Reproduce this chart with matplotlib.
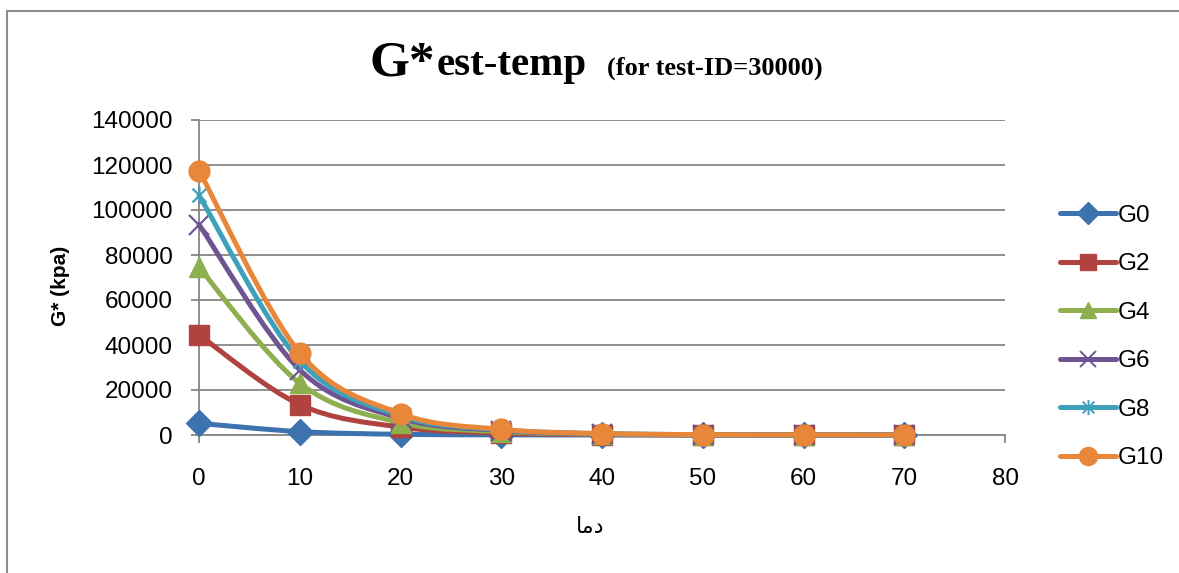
import matplotlib
matplotlib.use("Agg")
import matplotlib.pyplot as plt
import numpy as np
from matplotlib.path import Path
from matplotlib.patches import PathPatch, Rectangle
from matplotlib.lines import Line2D

# ---- data ----
temps = [0, 10, 20, 30, 40, 50, 60, 70]
series_names = ["G0", "G2", "G4", "G6", "G8", "G10"]
g0 = [5200, 1500, 300, 80, 20, 5, 2, 1]
g2 = [44500, 13500, 3500, 800, 200, 50, 15, 5]
g4 = [74500, 23000, 5500, 1500, 400, 100, 30, 10]
g6 = [93500, 29000, 7500, 2000, 500, 130, 40, 10]
g8 = [106500, 33000, 8500, 2300, 600, 150, 45, 12]
g10 = [117500, 36500, 9500, 2500, 650, 170, 50, 15]
y_ticks = [0, 20000, 40000, 60000, 80000, 100000, 120000, 140000]
x_ticks = [0, 10, 20, 30, 40, 50, 60, 70, 80]

colors = ["#3C72AD", "#B0433F", "#8EAF4E", "#6F5493", "#3FA0BA", "#E8873A"]

# asterisk marker
ast = Path([(-1, -1), (1, 1), (-1, 1), (1, -1), (0, -1.3), (0, 1.3)],
           [Path.MOVETO, Path.LINETO, Path.MOVETO, Path.LINETO, Path.MOVETO, Path.LINETO])
markers = ["D", "s", "^", "x", ast, "o"]
msizes = [13, 14, 14, 14, 13, 15]
leg_msizes = [11, 12, 12, 12, 11, 13]
data = [g0, g2, g4, g6, g8, g10]

fig = plt.figure(figsize=(11.79, 5.73), dpi=100)
ax = fig.add_axes([199 / 1179, 1 - 435 / 573, (1005 - 199) / 1179, (435 - 120) / 573])

def smooth_path(x, y):
    pts = np.column_stack([x, y]).astype(float)
    n = len(pts)
    verts = [pts[0]]
    codes = [Path.MOVETO]
    for i in range(n - 1):
        p0 = pts[i - 1] if i > 0 else pts[i]
        p1 = pts[i]
        p2 = pts[i + 1]
        p3 = pts[i + 2] if i + 2 < n else pts[i + 1]
        c1 = p1 + (p2 - p0) / 6.0
        c2 = p2 - (p3 - p1) / 6.0
        verts += [c1, c2, p2]
        codes += [Path.CURVE4] * 3
    return Path(verts, codes)

handles = []
for i, (name, vals) in enumerate(zip(series_names, data)):
    c = colors[i]
    patch = PathPatch(smooth_path(temps, vals), facecolor="none", edgecolor=c,
                      lw=3.6, capstyle="round", joinstyle="round", zorder=3 + i,
                      clip_on=False)
    ax.add_patch(patch)
    m = markers[i]
    unfilled = i in (3, 4)
    ax.plot(temps, vals, linestyle="none", marker=m, markersize=msizes[i],
            color=c, markeredgecolor=c, markeredgewidth=1.6 if unfilled else 1,
            markerfacecolor="none" if unfilled else c, zorder=3.5 + i, clip_on=False)
    handles.append(Line2D([], [], color=c, lw=3.6, solid_capstyle="round",
                          marker=m, markersize=leg_msizes[i], markeredgecolor=c,
                          markeredgewidth=1.4 if unfilled else 1,
                          markerfacecolor="none" if unfilled else c))

ax.set_xlim(0, 80)
ax.set_ylim(0, 140000)
ax.set_xticks(x_ticks)
ax.set_yticks(y_ticks)
ax.set_xticklabels([str(t) for t in x_ticks])
ax.set_yticklabels([str(t) for t in y_ticks])
ax.grid(axis="y", color="#868686", lw=1.3)
ax.set_axisbelow(True)
for s in ["top", "right"]:
    ax.spines[s].set_visible(False)
for s in ["left", "bottom"]:
    ax.spines[s].set_color("#868686")
    ax.spines[s].set_linewidth(1.3)
ax.tick_params(axis="both", direction="out", length=6, width=1.3, color="#868686",
               labelsize=17.5)
ax.tick_params(axis="y", pad=13)
ax.tick_params(axis="x", pad=18)
for lab in ax.get_xticklabels() + ax.get_yticklabels():
    lab.set_family("Liberation Sans")

ax.set_ylabel("G* (kpa)", fontsize=15, fontweight="bold", family="Liberation Sans")
ax.yaxis.set_label_coords(-0.16, 0.475)
fig.text(590 / 1179, 1 - 527 / 573, "\uFE8E\uFEE3\uFEA9", ha="center", va="center",
         fontsize=16, family="DejaVu Sans")

fig.text(370 / 1179, 1 - 75 / 573, "G*", fontsize=37, fontweight="bold",
         family="Liberation Serif", ha="left", va="baseline")
fig.text(437 / 1179, 1 - 75 / 573, "est-temp", fontsize=29.5, fontweight="bold",
         family="Liberation Serif", ha="left", va="baseline")
fig.text(607 / 1179, 1 - 75 / 573, "(for test-ID=30000)", fontsize=19, fontweight="bold",
         family="Liberation Serif", ha="left", va="baseline")

leg = fig.legend(handles=handles, labels=series_names, loc="upper left",
                 bbox_to_anchor=(1038 / 1179, 1 - 183 / 573), frameon=False,
                 prop={"family": "Liberation Sans", "size": 17.5},
                 handlelength=2.3, labelspacing=1.09, handletextpad=0.1)

fig.add_artist(Rectangle((7 / 1179, -0.1), 1.2, 1 - 11 / 573 + 0.1,
                         transform=fig.transFigure, facecolor="none",
                         edgecolor="#8C8C8C", lw=1.5))

fig.savefig("out.png", dpi=100)
